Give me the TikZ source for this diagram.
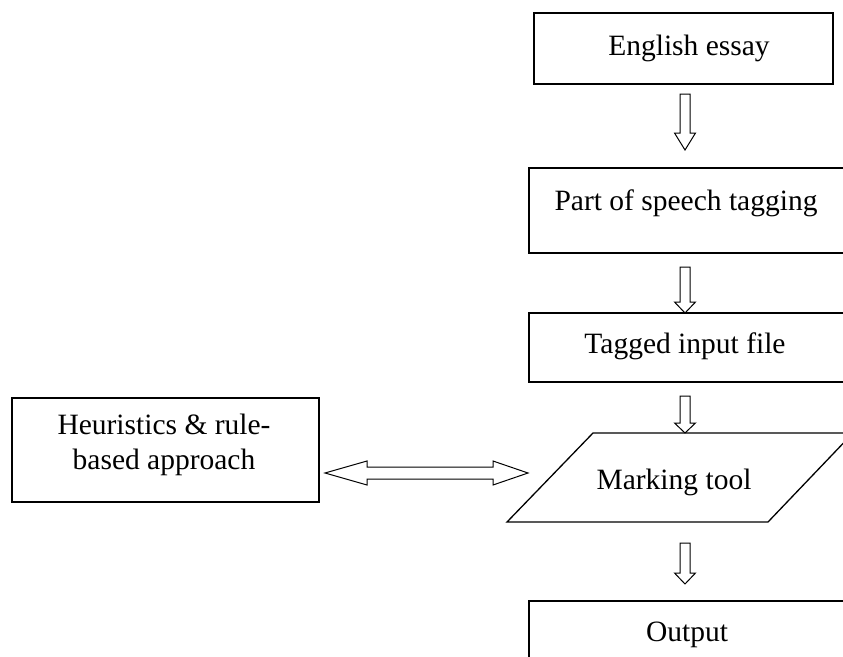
\documentclass[tikz,border=0pt]{standalone}
\usepackage{fontspec}
\setmainfont{Liberation Serif}
\begin{document}
\begin{tikzpicture}[x=1pt,y=-1pt,
  box/.style={draw, line width=1.3pt, inner sep=0pt, fill=none},
  lbl/.style={inner sep=0pt, font=\fontsize{29.5}{35}\selectfont, align=center},
  barrow/.style={draw, line width=1pt, line join=miter}]
\useasboundingbox (0,0) rectangle (843,656);
\clip (0,0) rectangle (843,656);
% boxes
\node[box, minimum width=299pt, minimum height=71pt] (ee) at (683.5,48.5) {};
\node[lbl] (eet) at (689,48) {English essay};
\node[box, minimum width=324pt, minimum height=85pt] (pos) at (691,210.5) {};
\node[lbl] (post) at (686,203) {Part of speech tagging};
\node[box, minimum width=324pt, minimum height=69pt] (tif) at (691,347.5) {};
\node[lbl] (tift) at (685,346) {Tagged input file};
\coordinate (mtA) at (593,433);
\coordinate (mtB) at (853,433);
\coordinate (mtC) at (768,522);
\coordinate (mtD) at (507,522);
\draw[line width=1.3pt, line join=miter] (mtA) -- (mtB) -- (mtC) -- (mtD) -- cycle;
\node[lbl] (mt) at (674,482) {Marking tool};
\node[box, minimum width=324pt, minimum height=68pt] (out) at (691,635) {};
\node[lbl] (outt) at (687,635) {Output};
\node[box, minimum width=307pt, minimum height=104pt] (heu) at (165.5,450) {};
\node[lbl] (heut) at (164,445) {Heuristics \& rule-\\based approach};
% block arrows down
\newcommand{\blockdn}[3]{%
  \draw[barrow] (680,#1) -- (690,#1) -- (690,#2) -- (695.5,#2) -- (685,#3) -- (674.5,#2) -- (680,#2) -- cycle;}
\blockdn{94}{133}{150}
\blockdn{267}{302}{313}
\blockdn{396}{423}{433}
\blockdn{543}{573}{584}
% double arrow
\draw[barrow] (325,473) -- (367,461) -- (367,467) -- (493,467) -- (493,461) -- (528,473)
  -- (493,485) -- (493,479) -- (367,479) -- (367,485) -- cycle;
\end{tikzpicture}
\end{document}
